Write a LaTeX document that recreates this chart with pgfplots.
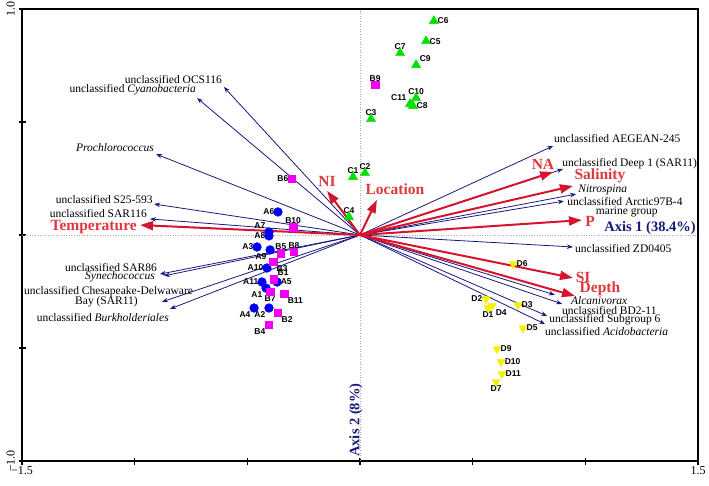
\documentclass[border=0pt]{standalone}
\usepackage{fontspec}
\setmainfont{Liberation Serif}
\newfontfamily\arialfont{Liberation Sans}
\usepackage{pgfplots}
\pgfplotsset{compat=1.18}
\usepackage{pgfplotstable}
\usetikzlibrary{arrows.meta}
\definecolor{navyc}{RGB}{25,25,125}
\definecolor{redarr}{RGB}{215,20,45}
\definecolor{redtxt}{RGB}{225,55,60}
\definecolor{ptgreen}{RGB}{0,225,0}
\definecolor{ptmag}{RGB}{240,0,240}
\definecolor{ptblue}{RGB}{0,0,245}
\definecolor{ptyel}{RGB}{245,240,0}
\definecolor{axnavy}{RGB}{25,25,120}
\newcommand\spfont{\fontsize{11.5}{10.5}\selectfont}
\newcommand\envfont{\fontsize{15.5}{15}\selectfont\bfseries}
\newcommand\ptfont{\arialfont\fontsize{8.5}{8}\selectfont\bfseries}

\pgfplotstableread{
x y
-0.417 -0.235
-0.404 -0.323
-0.457 -0.053
-0.470 -0.323
-0.368 -0.208
-0.364 0.102
-0.404 0.013
-0.404 -0.004
-0.399 -0.066
-0.413 -0.146
-0.435 -0.208
}\Apts
\pgfplotstableread{
x y
-0.382 -0.195
-0.364 -0.345
-0.386 -0.119
-0.404 -0.398
-0.351 -0.080
-0.302 0.248
-0.399 -0.252
-0.293 -0.075
0.067 0.664
-0.297 0.035
-0.337 -0.261
}\Bpts
\pgfplotstableread{
x y
-0.031 0.257
0.022 0.274
0.049 0.513
-0.049 0.080
0.293 0.858
0.328 0.947
0.178 0.805
0.235 0.571
0.249 0.752
0.249 0.606
0.222 0.580
}\Cpts
\pgfplotstableread{
x y
0.568 -0.323
0.559 -0.283
0.701 -0.310
0.586 -0.314
0.723 -0.412
0.679 -0.128
0.604 -0.650
0.608 -0.504
0.626 -0.562
0.630 -0.615
}\Dpts

\pgfplotsset{
 sp/.style={navyc, line width=0.8pt, -{Stealth[length=6pt,width=4.5pt]}, forget plot},
 env/.style={redarr, line width=2pt, -{Triangle[length=13pt,width=9pt]}, forget plot},
}
\tikzset{pl/.style={inner sep=3.5pt, font=\ptfont, text=black}}

\begin{document}
\begin{tikzpicture}
\begin{axis}[
 scale only axis, width=676pt, height=452pt,
 xmin=-1.5,xmax=1.5,ymin=-1,ymax=1,
 clip=false,
 axis line style={line width=1.3pt},
 xtick={-1.5,-1,-0.5,0,0.5,1,1.5},
 xticklabels={−1.5,,,,,,1.5},
 ytick={-1,-0.5,0,0.5,1},
 yticklabels={−1.0,,,,1.0},
 tick align=center, major tick length=7pt,
 tick style={line width=1.2pt,black},
 xtick pos=bottom, ytick pos=left,
 xticklabel style={font=\fontsize{12}{12}\selectfont, inner sep=2pt},
 yticklabel style={font=\fontsize{12}{12}\selectfont, rotate=90, anchor=south, inner sep=3.5pt},
]
\addplot[gray!70, line width=0.6pt, dotted, forget plot] coordinates {(-1.5,0) (1.5,0)};
\addplot[gray!70, line width=0.6pt, dotted, forget plot] coordinates {(0,-1) (0,1)};

% species arrows
\addplot[sp] coordinates {(0,0) (-0.604,0.655)};
\addplot[sp] coordinates {(0,0) (-0.723,0.606)};
\addplot[sp] coordinates {(0,0) (-0.905,0.358)};
\addplot[sp] coordinates {(0,0) (-0.914,0.137)};
\addplot[sp] coordinates {(0,0) (-0.932,0.071)};
\addplot[sp] coordinates {(0,0) (-0.888,-0.173)};
\addplot[sp] coordinates {(0,0) (-0.870,-0.181)};
\addplot[sp] coordinates {(0,0) (-0.879,-0.296)};
\addplot[sp] coordinates {(0,0) (-0.843,-0.327)};
\addplot[sp] coordinates {(0,0) (0.857,0.394)};
\addplot[sp] coordinates {(0,0) (0.901,0.292)};
\addplot[sp] coordinates {(0,0) (0.959,0.181)};
\addplot[sp] coordinates {(0,0) (0.905,0.150)};
\addplot[sp] coordinates {(0,0) (0.945,-0.053)};
\addplot[sp] coordinates {(0,0) (0.865,-0.265)};
\addplot[sp] coordinates {(0,0) (0.897,-0.305)};
\addplot[sp] coordinates {(0,0) (0.830,-0.358)};
\addplot[sp] coordinates {(0,0) (0.821,-0.394)};

% environmental arrows
\addplot[env] coordinates {(0,0) (-0.976,0.044)};
\addplot[env] coordinates {(0,0) (-0.146,0.195)};
\addplot[env] coordinates {(0,0) (0.075,0.155)};
\addplot[env] coordinates {(0,0) (0.857,0.279)};
\addplot[env] coordinates {(0,0) (0.945,0.217)};
\addplot[env] coordinates {(0,0) (0.985,0.066)};
\addplot[env] coordinates {(0,0) (0.945,-0.190)};
\addplot[env] coordinates {(0,0) (0.954,-0.270)};

% species labels
\begin{scope}[every node/.style={inner sep=0pt, font=\spfont}]
\node[anchor=east] at (axis cs:-0.612,0.690) {unclassified OCS116};
\node[anchor=east] at (axis cs:-0.728,0.642) {unclassified \textit{Cyanobacteria}};
\node[anchor=east] at (axis cs:-0.914,0.389) {\textit{Prochlorococcus}};
\node[anchor=east] at (axis cs:-0.919,0.155) {unclassified S25-593};
\node[anchor=east] at (axis cs:-0.945,0.093) {unclassified SAR116};
\node[anchor=east] at (axis cs:-0.901,-0.142) {unclassified SAR86};
\node[anchor=east] at (axis cs:-0.910,-0.186) {\textit{Synechococcus}};
\node at (axis cs:-1.116,-0.252) {unclassified Chesapeake-Delwaware};
\node at (axis cs:-1.125,-0.296) {Bay (SAR11)};
\node[anchor=east] at (axis cs:-0.848,-0.363) {unclassified \textit{Burkholderiales}};
\node[anchor=west] at (axis cs:0.861,0.429) {unclassified AEGEAN-245};
\node[anchor=west] at (axis cs:0.897,0.314) {unclassified Deep 1 (SAR11)};
\node[anchor=west] at (axis cs:0.968,0.199) {\textit{Nitrospina}};
\node[anchor=west] at (axis cs:0.919,0.150) {unclassified Arctic97B-4};
\node at (axis cs:1.184,0.102) {marine group};
\node[anchor=west] at (axis cs:0.954,-0.058) {unclassified ZD0405};
\node[anchor=west] at (axis cs:0.936,-0.288) {\textit{Alcanivorax}};
\node[anchor=west] at (axis cs:0.896,-0.332) {unclassified BD2-11};
\node[anchor=west] at (axis cs:0.839,-0.376) {unclassified Subgroup 6};
\node[anchor=west] at (axis cs:0.821,-0.425) {unclassified \textit{Acidobacteria}};
\end{scope}
% environmental labels
\begin{scope}[every node/.style={inner sep=0pt, font=\envfont, text=redtxt}]
\node[anchor=east] at (axis cs:-0.990,0.035) {Temperature};
\node at (axis cs:-0.146,0.239) {NI};
\node at (axis cs:0.155,0.204) {Location};
\node at (axis cs:0.812,0.314) {NA};
\node at (axis cs:1.065,0.261) {Salinity};
\node at (axis cs:1.021,0.062) {P};
\node at (axis cs:0.990,-0.190) {SI};
\node at (axis cs:1.065,-0.239) {Depth};
\end{scope}
\node[inner sep=0pt, font=\fontsize{14.5}{14}\selectfont\bfseries, text=axnavy] at (axis cs:1.287,0.031) {Axis 1 (38.4\%)};
\node[inner sep=0pt, rotate=90, font=\fontsize{14.5}{14}\selectfont\bfseries, text=axnavy] at (axis cs:-0.018,-0.819) {Axis 2 (8\%)};

% sample points
\addplot[only marks, forget plot, mark=*, mark size=4.4pt, mark options={fill=ptblue, draw=ptblue}] table[x=x,y=y] {\Apts};
\addplot[only marks, forget plot, mark=square*, mark size=3.7pt, mark options={fill=ptmag, draw=ptmag}] table[x=x,y=y] {\Bpts};
\addplot[only marks, forget plot, mark=triangle*, mark size=5.3pt, mark options={fill=ptgreen, draw=ptgreen}] table[x=x,y=y] {\Cpts};
\addplot[only marks, forget plot, mark=triangle*, mark size=4.8pt, mark options={fill=ptyel, draw=ptyel, rotate=180}] table[x=x,y=y] {\Dpts};

% sample labels
\node[pl, anchor=north east] at (axis cs:-0.417,-0.235) {A1};
\node[pl, anchor=north east] at (axis cs:-0.404,-0.323) {A2};
\node[pl, anchor=east] at (axis cs:-0.457,-0.053) {A3};
\node[pl, anchor=north east] at (axis cs:-0.470,-0.323) {A4};
\node[pl, anchor=west] at (axis cs:-0.368,-0.208) {A5};
\node[pl, anchor=east] at (axis cs:-0.364,0.102) {A6};
\node[pl, anchor=south east] at (axis cs:-0.404,0.013) {A7};
\node[pl, anchor=east] at (axis cs:-0.404,-0.004) {A8};
\node[pl, anchor=north east] at (axis cs:-0.399,-0.066) {A9};
\node[pl, anchor=east] at (axis cs:-0.413,-0.146) {A10};
\node[pl, anchor=east] at (axis cs:-0.435,-0.208) {A11};
\node[pl, anchor=south west] at (axis cs:-0.382,-0.195) {B1};
\node[pl, anchor=north west] at (axis cs:-0.364,-0.345) {B2};
\node[pl, anchor=north west] at (axis cs:-0.386,-0.119) {B3};
\node[pl, anchor=north east] at (axis cs:-0.404,-0.398) {B4};
\node[pl, anchor=south] at (axis cs:-0.351,-0.080) {B5};
\node[pl, anchor=east] at (axis cs:-0.302,0.248) {B6};
\node[pl, anchor=north] at (axis cs:-0.399,-0.252) {B7};
\node[pl, anchor=south] at (axis cs:-0.293,-0.075) {B8};
\node[pl, anchor=south] at (axis cs:0.067,0.664) {B9};
\node[pl, anchor=south] at (axis cs:-0.297,0.035) {B10};
\node[pl, anchor=north west] at (axis cs:-0.337,-0.261) {B11};
\node[pl, anchor=south] at (axis cs:-0.031,0.257) {C1};
\node[pl, anchor=south] at (axis cs:0.022,0.274) {C2};
\node[pl, anchor=south] at (axis cs:0.049,0.513) {C3};
\node[pl, anchor=south] at (axis cs:-0.049,0.080) {C4};
\node[pl, anchor=west] at (axis cs:0.293,0.858) {C5};
\node[pl, anchor=west] at (axis cs:0.328,0.947) {C6};
\node[pl, anchor=south] at (axis cs:0.178,0.805) {C7};
\node[pl, anchor=west] at (axis cs:0.235,0.571) {C8};
\node[pl, anchor=south west] at (axis cs:0.249,0.752) {C9};
\node[pl, anchor=south] at (axis cs:0.249,0.606) {C10};
\node[pl, anchor=south east] at (axis cs:0.222,0.580) {C11};
\node[pl, anchor=north] at (axis cs:0.568,-0.323) {D1};
\node[pl, anchor=east] at (axis cs:0.559,-0.283) {D2};
\node[pl, anchor=west] at (axis cs:0.701,-0.310) {D3};
\node[pl, anchor=north west] at (axis cs:0.586,-0.314) {D4};
\node[pl, anchor=west] at (axis cs:0.723,-0.412) {D5};
\node[pl, anchor=west] at (axis cs:0.679,-0.128) {D6};
\node[pl, anchor=north] at (axis cs:0.604,-0.650) {D7};
\node[pl, anchor=west] at (axis cs:0.608,-0.504) {D9};
\node[pl, anchor=west] at (axis cs:0.626,-0.562) {D10};
\node[pl, anchor=west] at (axis cs:0.630,-0.615) {D11};
\end{axis}
\pgfresetboundingbox
\path[use as bounding box] ([xshift=-22pt,yshift=-24pt]current axis.south west) rectangle ([xshift=11pt,yshift=9pt]current axis.north east);
\end{tikzpicture}
\end{document}
